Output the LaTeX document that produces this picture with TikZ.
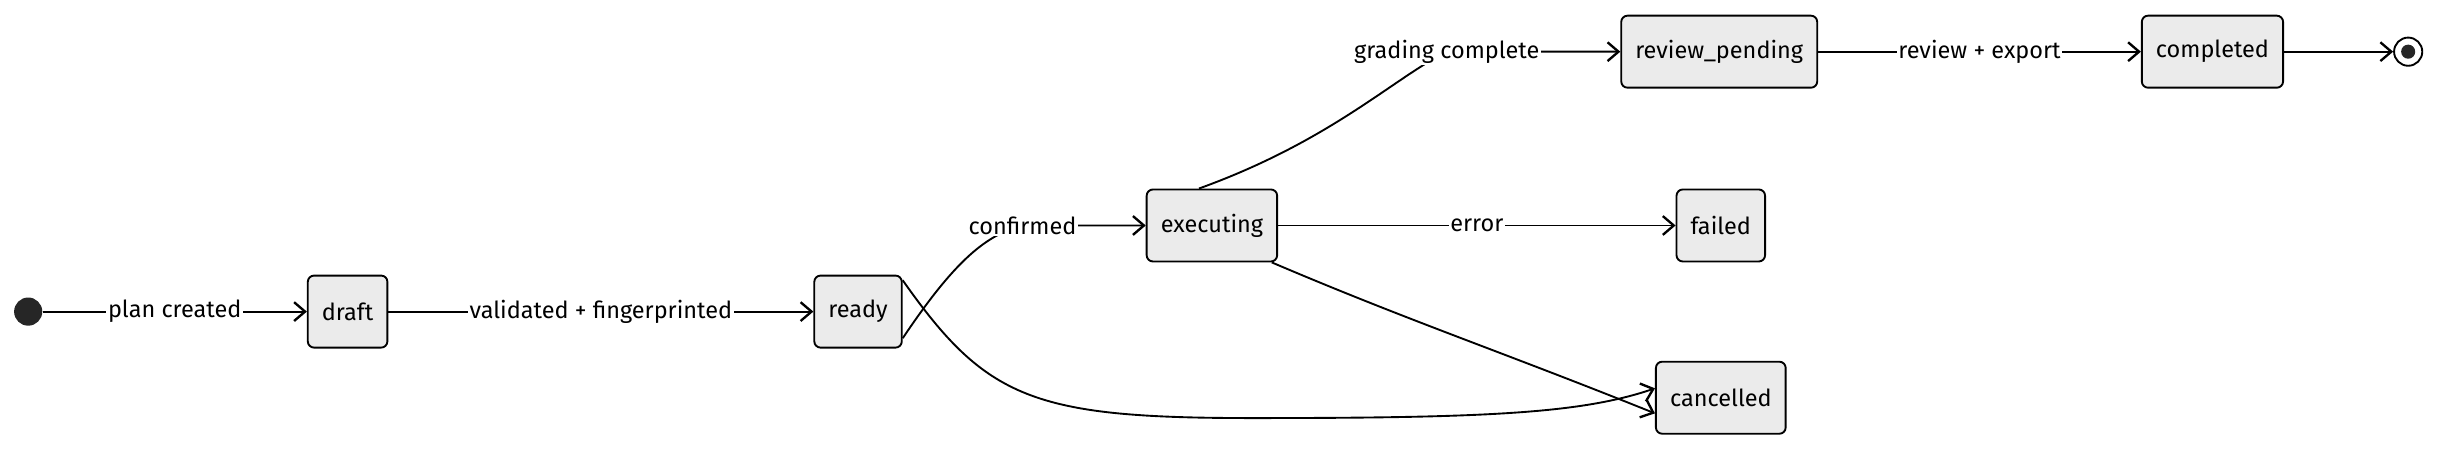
\documentclass[tikz,border=0pt]{standalone}
\usepackage{fontspec}
\setmainfont{Fira Sans}
\usetikzlibrary{arrows.meta}
\begin{document}
\begin{tikzpicture}[x=1pt,y=-1pt,
  font=\fontsize{15}{18}\selectfont,
  state/.style={draw=black,fill=black!8,rounded corners=4pt,line width=1.2pt,
    minimum height=46pt,inner xsep=9pt},
  edge/.style={line width=1.2pt,-{Straight Barb[length=7pt,width=12pt,line width=1.5pt]}},
  lbl/.style={fill=white,inner sep=1pt},
]
  \useasboundingbox (0,0) rectangle (1566,290);

  % states
  \node[circle,fill=black!85,minimum size=18pt,inner sep=0pt] (start) at (18,199) {};
  \node[state] (draft) at (222,199) {draft};
  \node[state] (ready) at (548,199) {ready};
  \node[state] (executing) at (774,144) {executing};
  \node[state] (failed) at (1099,144) {failed};
  \node[state] (cancelled) at (1099,254) {cancelled};
  \node[state] (review) at (1098,33) {review\_pending};
  \node[state] (completed) at (1413,33) {completed};
  \node[circle,draw=black,line width=1.2pt,minimum size=18pt,inner sep=0pt] (stop) at (1538,33) {};
  \node[circle,fill=black!85,minimum size=9pt,inner sep=0pt] (stopdot) at (stop) {};

  % wiring
  \draw[edge] (start) -- node[lbl] {plan created} (draft);
  \draw[edge] (draft) -- node[lbl] {validated + fingerprinted} (ready);
  \draw[edge] ([yshift=-17pt]ready.east) .. controls (610,166) and (630,150) .. (653,144)
    node[lbl] {confirmed} -- (executing);
  \draw[edge] ([xshift=34pt]executing.north west) .. controls (850,90) and (890,50) .. (924,33)
    node[lbl] {grading complete} -- (review);
  \draw[edge] (executing) -- node[lbl] {error} (failed);
  \draw[edge] ([xshift=-4pt]executing.south east) .. controls (900,205) and (960,225) .. ([yshift=-10pt]cancelled.west);
  \draw[edge] ([yshift=20pt]ready.east) .. controls (630,255) and (660,267) .. (800,267)
    .. controls (950,267) and (1010,264) .. ([yshift=6pt]cancelled.west);
  \draw[edge] (review) -- node[lbl] {review + export} (completed);
  \draw[edge] (completed) -- (stop);
\end{tikzpicture}
\end{document}
